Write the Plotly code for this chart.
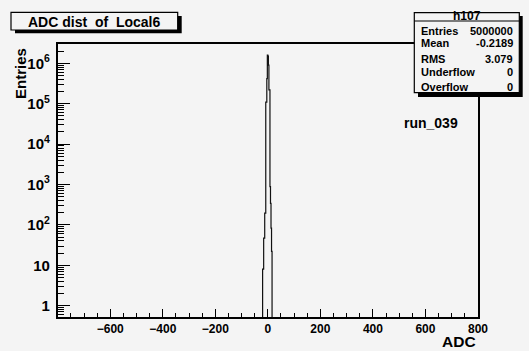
import plotly.graph_objects as go

# ---- data ----
bin_edges = [-22, -20, -18, -16, -14, -12, -10, -8, -6, -4, -2, 0, 2, 4, 6, 8, 10, 12, 14, 16, 18, 20, 22]
counts = [0, 8, 8, 47, 47, 195, 195, 1.1e5, 1.1e5, 4.2e5, 1.6e6, 1.5e6, 9.0e5, 2.2e5, 2.2e5, 890, 340, 83, 22, 0, 0, 0]

stats_labels = ["Entries", "Mean", "RMS", "Underflow", "Overflow"]
stats_values = ["5000000", "-0.2189", "3.079", "0", "0"]

# ---- geometry ----
W, H = 529, 351
L, R, T, B = 58, 51, 44, 34
PW, PH = W - L - R, H - T - B
BG = "#f4f4f4"
FONT = "Liberation Sans"
XRANGE = [-799, 800.05]
YRANGE = [-0.28, 6.478]


def px(x):
    return (x - L) / PW


def py(y):
    return (H - B - y) / PH


FLOOR = 1e-3
xs = list(bin_edges)
ys = [max(c, FLOOR) for c in counts] + [max(counts[-1], FLOOR)]

fig = go.Figure()
fig.add_trace(go.Scatter(
    x=xs, y=ys, mode="lines", line=dict(shape="hv", color="#111111", width=1.2),
    hoverinfo="skip", showlegend=False,
))

fig.update_layout(
    width=W, height=H,
    margin=dict(l=L, r=R, t=T, b=B),
    paper_bgcolor=BG, plot_bgcolor=BG,
    font=dict(family=FONT, color="black"),
    xaxis=dict(
        range=XRANGE, showgrid=False, zeroline=False,
        showline=True, linecolor="black", linewidth=1.5, mirror=True,
        ticks="inside", ticklen=8, tickwidth=1.3, tickcolor="black",
        tickmode="linear", tick0=0, dtick=200,
        tickfont=dict(family=FONT, size=12, weight="bold"),
        minor=dict(ticks="inside", ticklen=4, tickwidth=1.2, tickcolor="black",
                   tickmode="linear", tick0=0, dtick=50, showgrid=False),
    ),
    yaxis=dict(
        type="log", range=YRANGE, showgrid=False, zeroline=False,
        showline=True, linecolor="black", linewidth=1.5, mirror=True,
        ticks="inside", ticklen=12, tickwidth=1.3, tickcolor="black",
        tickmode="linear", tick0=0, dtick=1, exponentformat="power",
        tickfont=dict(family=FONT, size=12, weight="bold"),
        ticklabelstandoff=4,
        minor=dict(ticks="inside", ticklen=6, tickwidth=1.1, tickcolor="black",
                   dtick="D1", showgrid=False),
    ),
)

shapes = []
annotations = []

# title box with shadow
shapes.append(dict(type="rect", xref="paper", yref="paper", x0=px(15), x1=px(181.7), y0=py(33.3), y1=py(16),
                   fillcolor="black", line=dict(width=0), layer="above"))
shapes.append(dict(type="rect", xref="paper", yref="paper", x0=px(11), x1=px(177.7), y0=py(30), y1=py(12.3),
                   fillcolor=BG, line=dict(color="black", width=1.2), layer="above"))
annotations.append(dict(text="ADC dist\u00a0\u00a0of\u00a0\u00a0Local6", xref="paper", yref="paper",
                        x=px(94.3), y=py(21.5), xanchor="center", yanchor="middle", showarrow=False,
                        font=dict(family=FONT, size=14, weight="bold", color="black")))

# stats box with shadow
shapes.append(dict(type="rect", xref="paper", yref="paper", x0=px(418), x1=px(522.7), y0=py(97), y1=py(16),
                   fillcolor="black", line=dict(width=0), layer="above"))
shapes.append(dict(type="rect", xref="paper", yref="paper", x0=px(414.3), x1=px(519.3), y0=py(92.7), y1=py(12.7),
                   fillcolor=BG, line=dict(color="black", width=1.2), layer="above"))
shapes.append(dict(type="line", xref="paper", yref="paper", x0=px(414.3), x1=px(519.3), y0=py(21), y1=py(21),
                   line=dict(color="black", width=1.2), layer="above"))
annotations.append(dict(text="h107", xref="paper", yref="paper", x=px(466.8), y=py(16.3),
                        xanchor="center", yanchor="middle", showarrow=False,
                        font=dict(family=FONT, size=12, weight="bold", color="black")))
row_y = [31.5, 43.3, 59.3, 71.5, 87.3]
for lab, val, yy in zip(stats_labels, stats_values, row_y):
    annotations.append(dict(text=lab, xref="paper", yref="paper", x=px(418.5), y=py(yy),
                            xanchor="left", yanchor="middle", showarrow=False,
                            font=dict(family=FONT, size=11, weight="bold", color="black")))
    annotations.append(dict(text=val, xref="paper", yref="paper", x=px(515), y=py(yy),
                            xanchor="right", yanchor="middle", showarrow=False,
                            font=dict(family=FONT, size=11, weight="bold", color="black")))

# run label
annotations.append(dict(text="run_039", xref="paper", yref="paper", x=px(430.8), y=py(123.3),
                        xanchor="center", yanchor="middle", showarrow=False,
                        font=dict(family=FONT, size=14, weight="bold", color="black")))

# axis titles
annotations.append(dict(text="ADC", xref="paper", yref="paper", x=px(478), y=py(341.5),
                        xanchor="right", yanchor="middle", showarrow=False,
                        font=dict(family=FONT, size=15.5, weight="bold", color="black")))
annotations.append(dict(text="Entries", xref="paper", yref="paper", x=px(20.5), y=py(73.5),
                        xanchor="center", yanchor="middle", showarrow=False, textangle=-90,
                        font=dict(family=FONT, size=15, weight="bold", color="black")))

fig.update_layout(shapes=shapes, annotations=annotations)
fig.write_html("out.html", config={"displayModeBar": False})
